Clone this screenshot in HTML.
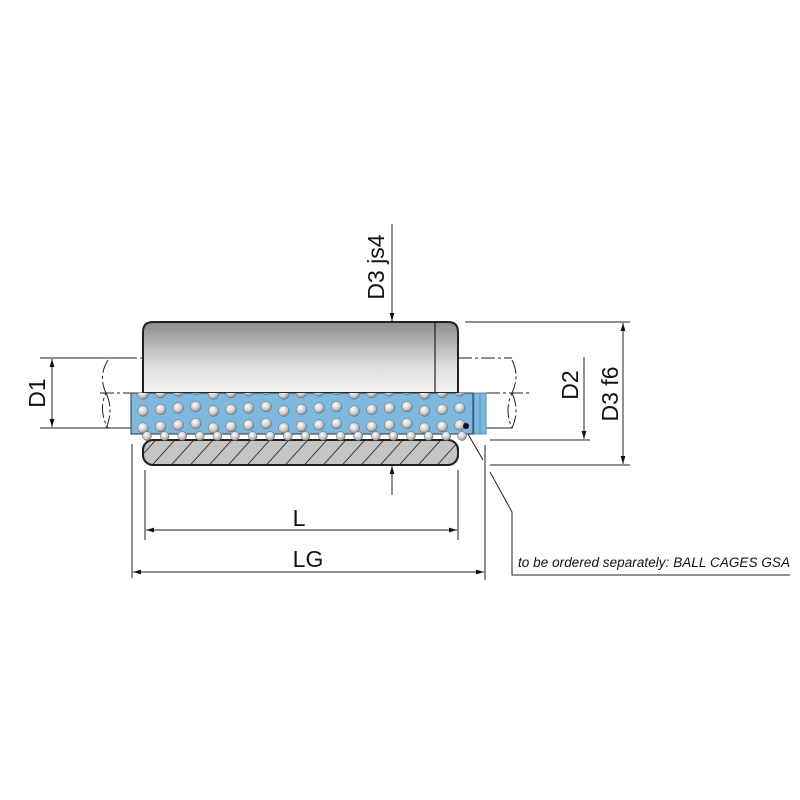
<!DOCTYPE html>
<html><head><meta charset="utf-8"><style>body{margin:0;background:#fff}svg{display:block}</style></head>
<body>
<svg width="800" height="800" viewBox="0 0 800 800" xmlns="http://www.w3.org/2000/svg" xmlns:xlink="http://www.w3.org/1999/xlink" font-family="Liberation Sans, sans-serif">
<defs>
<linearGradient id="g" x1="0" y1="0" x2="0" y2="1">
<stop offset="0" stop-color="#8c8c8c"/><stop offset="0.6" stop-color="#dcdcdc"/><stop offset="1" stop-color="#f4f4f4"/></linearGradient>
<radialGradient id="b" cx="0.4" cy="0.35" r="0.7"><stop offset="0" stop-color="#fff"/><stop offset="0.6" stop-color="#c8c8c8"/><stop offset="1" stop-color="#777"/></radialGradient>
<pattern id="h" width="19" height="30" patternUnits="userSpaceOnUse" patternTransform="skewX(-42)"><line x1="1" y1="0" x2="1" y2="30" stroke="#222" stroke-width="1.1"/></pattern>
<marker id="a" viewBox="0 0 10 10" refX="10" refY="5" markerWidth="8" markerHeight="8" orient="auto-start-reverse"><path d="M0,2 L10,5 L0,8z" fill="#111"/></marker>
<clipPath id="cc"><rect x="131" y="393" width="342" height="41"/></clipPath>
<g id="c"><circle cx="0" cy="394" r="5.3"/><circle cx="0" cy="411" r="5.3"/><circle cx="0" cy="428" r="5.3"/></g>
</defs>
<g stroke="#222" stroke-width="1" fill="none">
<g stroke-dasharray="14,3,3,3">
<line x1="100" y1="358" x2="143" y2="358"/><line x1="100" y1="393" x2="131" y2="393"/>
<line x1="458" y1="358" x2="512" y2="358"/><line x1="486" y1="393" x2="530" y2="393"/>
<path d="M108 360 Q98 376 106 393 Q98 410 108 428"/><path d="M106 393 Q114 410 106 428"/>
<path d="M512 360 Q520 376 512 393 Q504 410 512 428"/><path d="M512 393 Q520 410 512 428"/>
</g>
<line x1="40" y1="358" x2="136" y2="358"/><line x1="40" y1="428" x2="131" y2="428"/>
<line x1="486" y1="428" x2="512" y2="428"/>
</g>
<path d="M143 393 V332 Q143 322 153 322 H448 Q458 322 458 332 V393 Z" fill="url(#g)" stroke="#222" stroke-width="2"/>
<line x1="435" y1="322" x2="435" y2="393" stroke="#222" stroke-width="1.2"/>
<rect x="143" y="440" width="315" height="25" rx="10" fill="#c4c4c4" stroke="#222" stroke-width="2"/>
<rect x="143" y="440" width="315" height="25" rx="10" fill="url(#h)" stroke="#222" stroke-width="2"/>
<rect x="131" y="393" width="342" height="41" fill="#7db8de" stroke="#333" stroke-width="1"/>
<rect x="474" y="393" width="12" height="41" fill="#7db8de" stroke="#4a90c0" stroke-width="1"/>
<line x1="480" y1="393" x2="480" y2="434" stroke="#4a90c0"/>
<g clip-path="url(#cc)" fill="url(#b)" stroke="#666" stroke-width="0.5">
<use xlink:href="#c" x="143" y="0"/><use xlink:href="#c" x="160.6" y="-1.5"/><use xlink:href="#c" x="178.2" y="-3"/><use xlink:href="#c" x="195.8" y="-4.5"/>
<use xlink:href="#c" x="213.4" y="0"/><use xlink:href="#c" x="231" y="-1.5"/><use xlink:href="#c" x="248.6" y="-3"/><use xlink:href="#c" x="266.2" y="-4.5"/>
<use xlink:href="#c" x="283.8" y="0"/><use xlink:href="#c" x="301.4" y="-1.5"/><use xlink:href="#c" x="319" y="-3"/><use xlink:href="#c" x="336.6" y="-4.5"/>
<use xlink:href="#c" x="354.2" y="0"/><use xlink:href="#c" x="371.8" y="-1.5"/><use xlink:href="#c" x="389.4" y="-3"/><use xlink:href="#c" x="407" y="-4.5"/>
<use xlink:href="#c" x="424.6" y="0"/><use xlink:href="#c" x="442.2" y="-1.5"/><use xlink:href="#c" x="459.8" y="-3"/>
</g>
<g fill="url(#b)" stroke="#666" stroke-width="0.5">
<circle cx="147" cy="436" r="4.5"/><circle cx="164.6" cy="436" r="4.5"/><circle cx="182.2" cy="436" r="4.5"/><circle cx="199.8" cy="436" r="4.5"/>
<circle cx="217.4" cy="436" r="4.5"/><circle cx="235" cy="436" r="4.5"/><circle cx="252.6" cy="436" r="4.5"/><circle cx="270.2" cy="436" r="4.5"/>
<circle cx="287.8" cy="436" r="4.5"/><circle cx="305.4" cy="436" r="4.5"/><circle cx="323" cy="436" r="4.5"/><circle cx="340.6" cy="436" r="4.5"/>
<circle cx="358.2" cy="436" r="4.5"/><circle cx="375.8" cy="436" r="4.5"/><circle cx="393.4" cy="436" r="4.5"/><circle cx="411" cy="436" r="4.5"/>
<circle cx="428.6" cy="436" r="4.5"/><circle cx="446.2" cy="436" r="4.5"/><circle cx="462" cy="436" r="4.5"/>
</g>
<circle cx="466" cy="426" r="3" fill="#111"/>
<g stroke="#222" stroke-width="1" fill="none">
<line x1="392" y1="224" x2="392" y2="321" marker-end="url(#a)"/>
<line x1="392" y1="495" x2="392" y2="466" marker-end="url(#a)"/>
<line x1="52" y1="359" x2="52" y2="427" marker-start="url(#a)" marker-end="url(#a)"/>
<line x1="465" y1="322" x2="630" y2="322"/><line x1="490" y1="465" x2="630" y2="465"/>
<line x1="490" y1="440" x2="590" y2="440"/>
<line x1="623" y1="323" x2="623" y2="464" marker-start="url(#a)" marker-end="url(#a)"/>
<line x1="584" y1="357" x2="584" y2="439" marker-end="url(#a)"/>
<line x1="145" y1="470" x2="145" y2="540"/><line x1="458" y1="470" x2="458" y2="540"/>
<line x1="132" y1="444" x2="132" y2="578"/><line x1="485" y1="445" x2="485" y2="580"/>
<line x1="146" y1="530" x2="457" y2="530" marker-start="url(#a)" marker-end="url(#a)"/>
<line x1="133" y1="572" x2="484" y2="572" marker-start="url(#a)" marker-end="url(#a)"/>
<line x1="468" y1="434" x2="483" y2="460"/>
<path d="M490 472 L512 512 V575 H790"/>
</g>
<g fill="#111" font-size="23">
<text x="299" y="526" text-anchor="middle">L</text>
<text x="308" y="567" text-anchor="middle">LG</text>
<text transform="translate(45,393) rotate(-90)" text-anchor="middle">D1</text>
<text transform="translate(384,267) rotate(-90)" text-anchor="middle">D3 js4</text>
<text transform="translate(578,385) rotate(-90)" text-anchor="middle">D2</text>
<text transform="translate(618,394) rotate(-90)" text-anchor="middle">D3 f6</text>
</g>
<text x="518" y="567" font-size="13.5" font-style="italic" fill="#111" textLength="272">to be ordered separately: BALL CAGES GSA</text>
</svg>
</body></html>
